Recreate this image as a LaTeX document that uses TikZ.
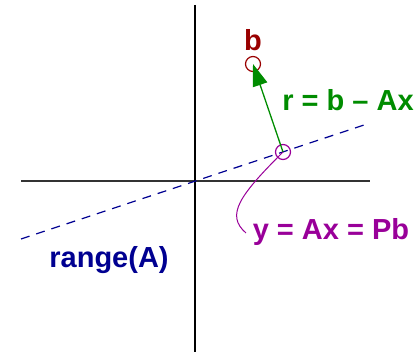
\documentclass[tikz,border=0pt]{standalone}
\usepackage{fontspec}
\setmainfont{Liberation Sans}
\usetikzlibrary{arrows.meta}
\definecolor{bred}{RGB}{153,0,0}
\definecolor{rgreen}{RGB}{0,140,0}
\definecolor{ypurple}{RGB}{153,0,153}
\definecolor{rnavy}{RGB}{0,0,145}
\begin{document}
\begin{tikzpicture}[x=1pt,y=-1pt,font=\fontsize{29}{32}\selectfont\bfseries,
  pt/.style={circle,draw,line width=1.2pt,minimum size=15pt,inner sep=0pt}]
\useasboundingbox (0,0) rectangle (418,352);
% axes
\draw[line width=1.6pt,black!80] (21,181) -- (370,181);
\draw[line width=1.3pt] (195,5) -- (195,352);
% range of A
\coordinate (rA1) at (21,239); \coordinate (rA2) at (370,123);
\draw[rnavy,line width=1.2pt,dash pattern=on 9pt off 7pt] (rA1) -- (rA2);
\node[rnavy] (rlab) at (109,260) {range(A)};
% b and its projection
\node[pt,draw=bred] (b) at (253,64) {};
\node[pt,draw=ypurple] (y) at (283,152) {};
\node[bred] (blab) at (253,40) {b};
\draw[rgreen,line width=1.3pt,-{Triangle[length=22pt,width=15pt]}] (y.center) -- (b.center);
\node[rgreen] (rlabel) at (348,100) {r = b – Ax};
\node[ypurple] (ylab) at (331,232) {y = Ax = Pb};
\coordinate (ytip) at (246,233);
\draw[ypurple,line width=1pt] (y.center) .. controls (240,195) and (225,215) .. (ytip);
\end{tikzpicture}
\end{document}
